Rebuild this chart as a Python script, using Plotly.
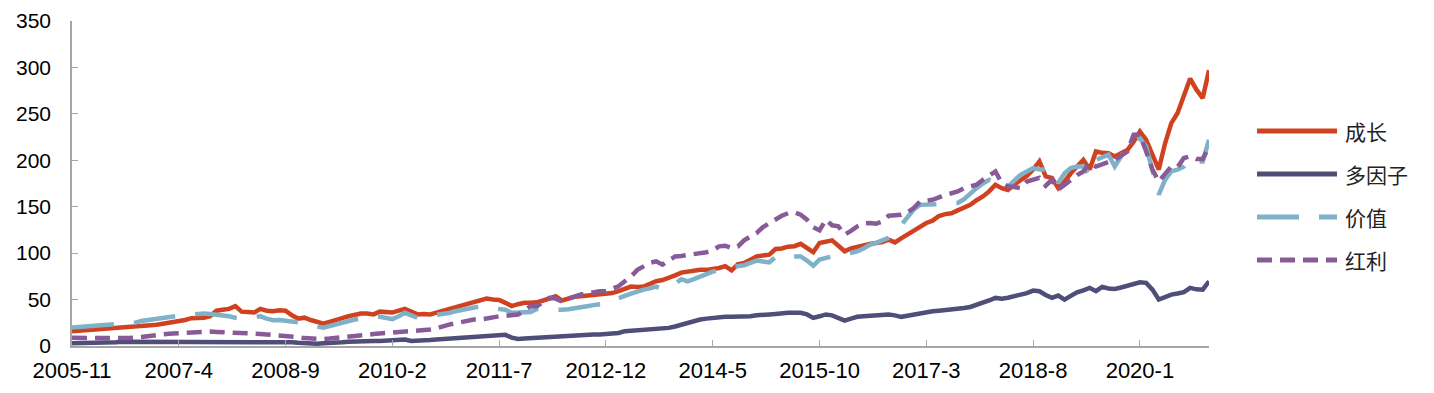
import plotly.graph_objects as go

# ---- data (monthly, 2005-11 .. 2020-12) ----
start_year, start_month, n_months = 2005, 11, 182
months = []
y_, m_ = start_year, start_month
for _ in range(n_months):
    months.append(f"{y_}-{m_}")
    m_ += 1
    if m_ > 12:
        m_ = 1
        y_ += 1

growth = [
    16, 16.5, 17, 17, 17.5, 18, 18, 18.5, 19, 19.5,
    20, 20.5, 21.5, 22.5, 23.5, 24.5, 25.5, 26.5, 28, 30,
    30, 30.5, 32, 38, 39, 40, 43, 37, 36.5, 36,
    40, 38, 37.5, 38.5, 38, 33, 29.5, 30.5, 28, 26,
    24, 26, 28.5, 30, 32, 34, 35, 35, 34, 37,
    36.5, 36, 38, 40, 37, 34, 34.5, 34, 36, 38,
    40, 42, 44, 46, 48, 49, 51, 50, 49.5, 46.5,
    43, 45, 46.5, 46.5, 47, 49, 51, 53.5, 49, 51,
    53, 53.5, 54, 55, 55.5, 56, 57, 59, 61, 64,
    63.5, 64, 67, 69.7, 71, 73, 76, 79, 80, 81.5,
    82, 82, 82.5, 84, 86, 81.5, 88, 89.5, 93, 96.5,
    97.5, 98.4, 104.5, 105, 107, 107.5, 110, 105.6, 101, 111,
    112, 113.8, 108, 102, 105, 107, 109, 110, 111, 112,
    114.5, 111.6, 116, 120, 124, 128, 132.5, 135, 140, 142,
    143, 146, 148.6, 152, 157, 161, 166.5, 173.6, 170, 168,
    174, 179, 183, 190, 198.7, 182.6, 181, 170, 177, 186,
    193, 200.5, 190, 209.5, 208, 207.7, 204, 207, 211, 220,
    231, 222, 206, 190, 218, 240, 251, 270, 288, 276, 267, 297,
]

multi_factor = [
    3, 3, 3.5, 3.5, 4, 4, 4, 4, 4.5, 4.5,
    4.5, 5, 5, 5, 5, 5, 5, 5, 5, 5,
    5, 5, 5, 5, 5, 5, 5, 5, 5, 5,
    5, 5, 5, 5, 4.5, 4, 3.5, 3, 3, 2.5,
    3, 3, 3.5, 4, 4.5, 5, 5, 5, 5.5, 5.5,
    6, 6, 6.5, 7, 5.5, 5.5, 6, 6.5, 7, 7.5,
    8, 8.5, 9, 9.5, 10, 10.5, 11, 11.5, 12, 12,
    9, 7.5, 8, 8.5, 9, 9.5, 10, 10, 10.5, 11,
    12, 12, 12, 12.5, 12.5, 13, 13.5, 14, 16, 16.5,
    16.5, 17, 17, 17.5, 18.5, 19.5, 21, 23, 24.5, 26.5,
    28.5, 29.5, 30.5, 31, 31.4, 31.5, 31.5, 31.4, 32, 33,
    34, 34, 34.5, 35.5, 35.7, 35.7, 35.7, 34, 30.3, 32,
    34, 33, 30, 27.4, 29.5, 31.4, 32, 32.5, 33, 34,
    34, 33, 31.4, 32.5, 34, 35.5, 37, 37.4, 38, 38.5,
    39.5, 40, 41, 42, 44, 46.4, 49, 51.8, 51, 52,
    53.5, 55, 57, 59.7, 59, 55, 51.8, 54.3, 50, 54,
    57.9, 60, 62.6, 59, 63.7, 62, 61.5, 63, 65, 67,
    68.6, 68, 60.7, 50, 53, 55.4, 56.5, 58, 62.6, 61, 60.7, 69.7,
]

value = [
    20, 20.5, 21, 21, 21.5, 22, 22.5, 23, 23, 23.5,
    25, 27, 28, 29.5, 30.5, 31.5, 32.5, 33, 33.5, 34,
    35, 35, 34.5, 34, 33.5, 32, 30.5, 30, 31, 31.5,
    32, 29.5, 27.7, 28, 27.5, 26.7, 25.6, 24, 22, 21,
    19.6, 21.5, 23, 25, 27, 28.5, 29.5, 30.5, 32, 31.5,
    30.5, 29, 32, 35.7, 33, 30.3, 31.5, 32.5, 33.5, 34,
    35.5, 37.4, 39, 40.5, 42, 42.8, 41.5, 40.5, 39.5, 39,
    35.7, 36, 36.5, 36.7, 40, 39.5, 39, 39, 39, 39.5,
    41, 42, 42.8, 44, 45, 45.7, 49, 52, 54, 56.5,
    59, 60.7, 62, 64, 61.5, 64, 67, 72, 69.7, 72,
    75, 78, 80, 82, 84, 85, 86, 87, 89.5, 92,
    91, 90, 96, 96, 96, 96.5, 96.5, 92, 86.5, 93,
    95, 96.5, 97, 98.5, 100, 102, 105, 109, 111, 114,
    116.4, 122, 131, 140, 147, 152, 152, 152, 152.5, 153,
    153.5, 154, 158, 164.7, 170, 175, 179, 175.5, 173.5, 171.8,
    178, 184.4, 188, 191.6, 190, 190, 190, 175.5, 186, 191.6,
    193.3, 193.3, 184.4, 200.5, 203, 206, 193.3, 204, 214.8, 220,
    223.9, 214.8, 190, 163, 179, 188, 190, 193.3, 202.4, 198.7, 198.7, 222,
]

dividend = [
    8.8, 8.8, 8.5, 8.3, 8, 7.8, 7.7, 7.7, 7.8, 8.5,
    9, 10, 10.5, 11.5, 12.5, 13, 13.5, 14, 14.5, 15,
    15.2, 15.5, 15.5, 15.2, 15, 14.8, 14.5, 14, 13.5, 13.3,
    13, 12.4, 12, 11, 10.5, 10, 9.5, 8.5, 8, 7,
    7.5, 8, 8.5, 9.5, 10, 10.5, 11.5, 12, 13, 13.4,
    14, 14.5, 15, 15.5, 16, 16.5, 17, 17.7, 19, 21.3,
    23, 24.5, 26, 27, 28.5, 28.5, 30, 31, 32, 32.5,
    33, 33.8, 38, 42.8, 42.8, 47, 51.8, 51, 48, 51,
    53.5, 55.4, 56.5, 58, 59, 59, 62, 64.3, 69.7, 75,
    82, 86, 89.5, 91.2, 87.6, 92, 96.5, 97, 98, 98.4,
    100, 101, 103, 107.3, 108, 105.6, 107.3, 113.8, 118, 121.7,
    128, 132.5, 136, 140.3, 143, 143.9, 141.4, 136, 128, 124.5,
    136, 130, 128.8, 119.9, 124, 128.8, 132, 132.5, 131.7, 134,
    140.3, 141, 141.4, 144, 148.6, 155.7, 156.5, 157.5, 160, 163,
    164.5, 166.5, 170, 172, 173.7, 179, 183, 188, 175.5, 172,
    171.2, 170, 177.2, 179, 181, 172.6, 179, 168.3, 174, 179,
    184, 188, 197, 193.3, 196, 198.7, 200.5, 205, 209.5, 227.4,
    227.4, 209.5, 190, 177.2, 184.4, 193.3, 192.7, 202.4, 204.2, 201.3, 201.3, 214.8,
]

series_names = ["成长", "多因子", "价值", "红利"]
y_ticks = [0, 50, 100, 150, 200, 250, 300, 350]
x_tick_labels = months[::17]

# ---- styles ----
colors = ["#d0421f", "#4f4e78", "#7fb1c9", "#895a98"]
dashes = ["solid", "solid", "42px,20px", "15px,8px"]
width = 4.5
FONT = "Liberation Sans, Arial, sans-serif"
CJK = "Noto Sans CJK SC"

fig = go.Figure()
for name, data, col, d in zip(series_names, [growth, multi_factor, value, dividend], colors, dashes):
    fig.add_trace(go.Scatter(
        x=months, y=data, mode="lines", name=name,
        line=dict(color=col, width=width, dash=d),
        showlegend=False,
    ))

# page has an 8px body margin -> figure sized/offset to compensate
OFF = 8
W, H = 1434 - OFF, 393 - OFF
ML, MT = 72 - OFF, 21 - OFF
MR, MB = W - (1209 - OFF), H - (346 - OFF)

axis_grey = "#a6a6a6"
fig.update_layout(
    width=W, height=H,
    margin=dict(l=ML, r=MR, t=MT, b=MB, autoexpand=False),
    paper_bgcolor="white", plot_bgcolor="white",
    font=dict(family=FONT, size=21, color="black"),
    xaxis=dict(
        type="category", range=[0, n_months - 1], automargin=False,
        tickmode="array", tickvals=x_tick_labels, ticktext=x_tick_labels,
        tickfont=dict(size=22),
        ticks="inside", ticklen=6, tickcolor=axis_grey, tickwidth=1.2,
        showline=True, linecolor=axis_grey, linewidth=1.5,
        showgrid=False, zeroline=False, tickangle=0,
        ticklabelstandoff=4,
    ),
    yaxis=dict(
        range=[0, 350], tickmode="array", tickvals=y_ticks, automargin=False,
        ticks="inside", ticklen=6, tickcolor=axis_grey, tickwidth=1.2,
        showline=True, linecolor=axis_grey, linewidth=1.5,
        showgrid=False, zeroline=False,
        ticklabelstandoff=15,
    ),
)

# ---- custom legend (long line samples) ----
plot_w, plot_h = W - ML - MR, H - MT - MB
def px_x(px):
    return (px - OFF - ML) / plot_w
def px_y(py):
    return (H - MB - (py - OFF)) / plot_h

legend_y = [131, 174, 217, 260]
for name, col, d, ly in zip(series_names, colors, dashes, legend_y):
    fig.add_shape(type="line", xref="paper", yref="paper",
                  x0=px_x(1257), x1=px_x(1337), y0=px_y(ly), y1=px_y(ly),
                  line=dict(color=col, width=width + 0.5, dash=d))
    fig.add_annotation(xref="paper", yref="paper", x=px_x(1343), y=px_y(ly),
                       xanchor="left", yanchor="middle", showarrow=False,
                       text=name, font=dict(family=CJK, size=21, color="#222222"))

fig.write_html("out.html")
